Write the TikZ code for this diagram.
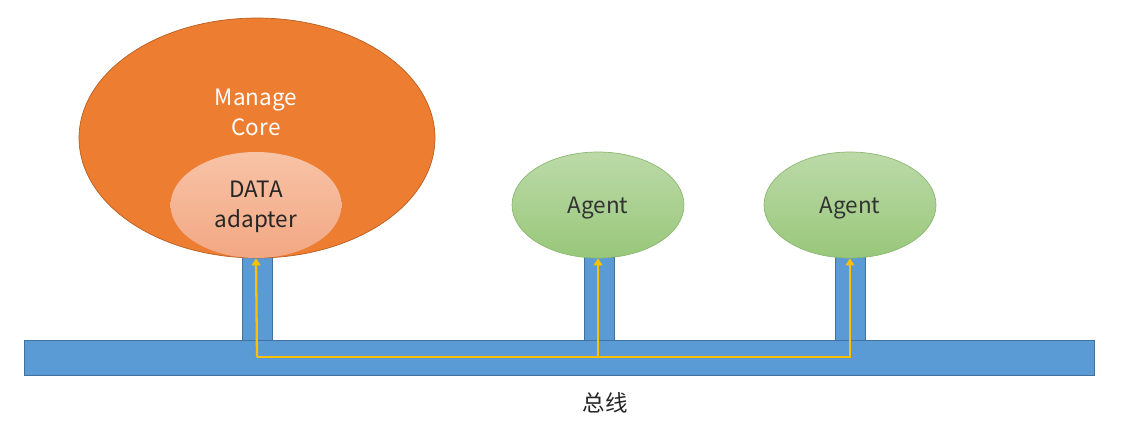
\documentclass[tikz,border=0pt]{standalone}
\usepackage{fontspec}
\setmainfont{Noto Sans CJK SC}
\usetikzlibrary{shapes.geometric,arrows.meta}

\definecolor{coreorange}{HTML}{ED7D31}
\definecolor{coreedge}{HTML}{B85F22}
\definecolor{adaptertop}{HTML}{F8C3A6}
\definecolor{adapterbot}{HTML}{F2A783}
\definecolor{agenttop}{HTML}{BCDAA8}
\definecolor{agentbot}{HTML}{98C77A}
\definecolor{agentedge}{HTML}{8CB872}
\definecolor{busblue}{HTML}{5B9BD5}
\definecolor{busedge}{HTML}{41719C}
\definecolor{flowyellow}{HTML}{FFC000}

\tikzset{
    agent/.style={ellipse, draw=agentedge, top color=agenttop, bottom color=agentbot,
        minimum width=3.44cm, minimum height=2.12cm, inner sep=0pt, text=black!80,
        font=\fontsize{12.8}{17}\selectfont},
    pillar/.style={rectangle, draw=busedge, fill=busblue, minimum width=0.6cm,
        minimum height=1.66cm, inner sep=0pt},
    flowline/.style={flowyellow, line width=1.3pt, -{Triangle[width=5pt,length=4pt]}}
}

\begin{document}
\begin{tikzpicture}[x=0.02cm, y=-0.02cm]
    \useasboundingbox (0,0) rectangle (1121,428);

    % pillars under the nodes
    \node[pillar] (p1) at (257,299) {};
    \node[pillar] (p2) at (599,299) {};
    \node[pillar] (p3) at (850,299) {};

    % Bus
    \node[rectangle, draw=busedge, fill=busblue, minimum width=21.4cm, minimum height=0.7cm,
        inner sep=0pt] (bus) at (559,357.5) {};
    \node[font=\fontsize{12.8}{17}\selectfont, text=black!85] (buslabel) at (605,403) {总线};

    % Manage core with its adapter
    \node[ellipse, draw=coreedge, fill=coreorange, minimum width=7.12cm, minimum height=4.8cm,
        inner sep=0pt] (core) at (257,138) {};
    \node[white, align=center, font=\fontsize{12.8}{17}\selectfont] (corelabel) at (256,112) {Manage\\Core};
    \node[ellipse, top color=adaptertop, bottom color=adapterbot, minimum width=3.42cm,
        minimum height=2.12cm, inner sep=0pt, align=center, text=black!85,
        font=\fontsize{12.8}{17}\selectfont] (adapter) at (256,205) {};
    \node[align=center, text=black!85, font=\fontsize{12.8}{17}\selectfont]
        (adapterlabel) at (256,207) {DATA\\adapter};

    % Agents
    \node[agent] (agent1) at (598,205) {};
    \node[agent] (agent2) at (850,205) {};
    \node[text=black!80, font=\fontsize{12.8}{17}\selectfont] (agentlabel1) at (598,208) {Agent};
    \node[text=black!80, font=\fontsize{12.8}{17}\selectfont] (agentlabel2) at (850,208) {Agent};

    % yellow flow along the bus
    \coordinate (j1) at (257,357);
    \coordinate (j2) at (599,357);
    \draw[flowline] (j1) -- (adapter.south);
    \draw[flowline] (j1) -| (agent1.south);
    \draw[flowline] (j2) -| (agent2.south);

\end{tikzpicture}
\end{document}
